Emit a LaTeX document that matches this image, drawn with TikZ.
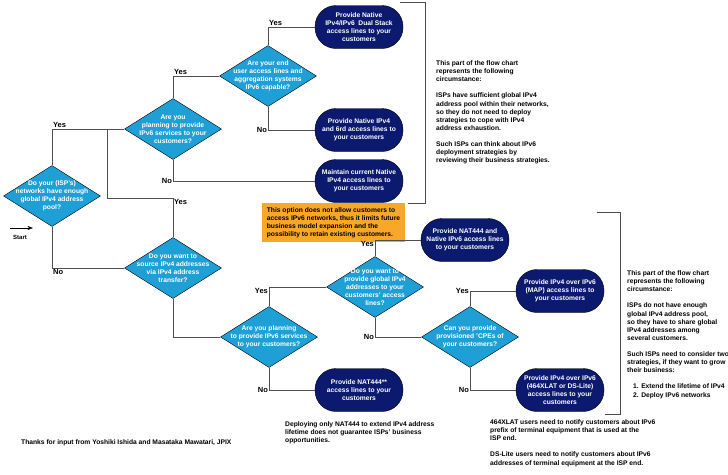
\documentclass[tikz,border=0pt]{standalone}
\usepackage{fontspec}
\setmainfont{Liberation Sans}
\definecolor{diamBlue}{RGB}{30,160,214}
\definecolor{termNavy}{RGB}{11,26,110}
\definecolor{noteOrange}{RGB}{247,168,41}
\definecolor{lineGray}{RGB}{80,80,80}
\usetikzlibrary{arrows.meta,positioning,shapes.geometric}

\begin{document}
\begin{tikzpicture}[
      x=1pt, y=-1pt,
      mydiamond/.style={
         diamond,
         draw=black,
         fill=diamBlue,
         inner sep=0pt,
         minimum width=97pt,
         minimum height=61pt},
      mydtext/.style={
         align=center,
         text=white,
         inner sep=0pt,
         font=\fontsize{6.7}{8.1}\selectfont\bfseries},
      myterm/.style={
         rectangle,
         rounded corners=21pt,
         draw=black,
         fill=termNavy,
         text=white,
         align=center,
         inner sep=0pt,
         minimum width=88pt,
         minimum height=43pt,
         font=\fontsize{6.7}{8.1}\selectfont\bfseries},
      mynote/.style={
         align=left,
         anchor=north west,
         inner sep=0pt,
         font=\fontsize{6.7}{8.1}\selectfont\bfseries},
      mylabel/.style={inner sep=0.8pt,font=\fontsize{7.5}{9}\selectfont\bfseries},
      myline/.style={draw=lineGray,line width=0.6pt},
      mybracket/.style={draw=black!70,line width=0.8pt},
      myarrow/.style={-Stealth}
      ]
      \useasboundingbox (0,0) rectangle (728,474);

      % decisions
      \node[mydiamond] (d1) at (52,196) {};
      \node[mydiamond] (d2) at (173,129) {};
      \node[mydiamond] (d3) at (268,76) {};
      \node[mydiamond] (d4) at (173,268) {};
      \node[mydiamond] (d5) at (375,287) {};
      \node[mydiamond] (d6) at (269,337) {};
      \node[mydiamond] (d7) at (470,337) {};

      \node[mydtext] (d1text) at (d1) {Do your (ISP's)\\networks have enough\\global IPv4 address\\pool?};
      \node[mydtext] (d2text) at (d2) {Are you\\planning to provide\\IPv6 services to your\\customers?};
      \node[mydtext] (d3text) at (d3) {Are your end\\user access lines and\\aggregation systems\\IPv6 capable?};
      \node[mydtext] (d4text) at (d4) {Do you want to\\source IPv4 addresses\\via IPv4 address\\transfer?};
      \node[mydtext] (d5text) at (d5) {Do you want to\\provide global IPv4\\addresses to your\\customers' access\\lines?};
      \node[mydtext] (d6text) at (d6) {Are you planning\\to provide IPv6 services\\to your customers?};
      \node[mydtext] (d7text) at (d7) {Can you provide\\provisioned 'CPEs of\\your customers?};

      % outcomes
      \node[myterm] (t1) at (359,27) {Provide Native\\IPv4/IPv6 \ Dual Stack\\access lines to your\\customers};
      \node[myterm] (t2) at (359,130) {Provide Native IPv4\\and 6rd access lines to\\your customers};
      \node[myterm] (t3) at (359,181) {Maintain current Native\\IPv4 access lines to\\your customers};
      \node[myterm] (t4) at (465,240) {Provide NAT444 and\\Native IPv6 access lines\\to your customers};
      \node[myterm] (t5) at (560,291) {Provide IPv4 over IPv6\\(MAP) access lines to\\your customers};
      \node[myterm] (t6) at (560,390) {Provide IPv4 over IPv6\\(464XLAT or DS-Lite)\\access lines to your\\customers};
      \node[myterm] (t7) at (359,390) {Provide NAT444**\\access lines to your\\customers};

      \node[fill=noteOrange,minimum width=143pt,minimum height=39pt,inner xsep=4pt,inner ysep=0pt,
            align=left,font=\fontsize{6.7}{8.1}\selectfont\bfseries] (warn) at (333.5,222.5)
            {This option does not allow customers to\\access IPv6 networks, thus it limits future\\business model expansion and the\\possibility to retain existing customers.};

      % side texts
      \node[mynote] (infoA) at (436,60.5) {This part of the flow chart\\represents the following\\circumstance:\\[8.1pt]
            ISPs have sufficient global IPv4\\address pool within their networks,\\so they do not need to deploy\\strategies to cope with IPv4\\address exhaustion.\\[8.1pt]
            Such ISPs can think about IPv6\\deployment strategies by\\reviewing their business strategies.};
      \node[mynote] (infoB) at (627,270.5) {This part of the flow chart\\represents the following\\circumstance:\\[8.1pt]
            ISPs do not have enough\\global IPv4 address pool,\\so they have to share global\\IPv4 addresses among\\several customers.\\[8.1pt]
            Such ISPs need to consider two\\strategies, if they want to grow\\their business:\\[8.1pt]
            \hspace{6pt}1. Extend the lifetime of IPv4\\\hspace{6pt}2. Deploy IPv6 networks};
      \node[mynote] (infoC) at (285,421.5) {Deploying only NAT444 to extend IPv4 address\\lifetime does not guarantee ISPs' business\\opportunities.};
      \node[mynote] (infoD) at (490,419.5) {464XLAT users need to notify customers about IPv6\\prefix of terminal equipment that is used at the\\ISP end.\\[8.1pt]
            DS-Lite users need to notify customers about IPv6\\addresses of terminal equipment at the ISP end.};
      \node[mynote] (thanks) at (21,439.5) {Thanks for input from Yoshiki Ishida and Masataka Mawatari, JPIX};

      % connectors
      \foreach \i/\j/\txt/\p in {% from/to/label/anchor
        d1.north/d2.west/Yes/south west,
        d1.south/d4.west/No/north west,
        d2.north/d3.west/Yes/south west,
        d2.south/t3.west/No/east,
        d3.north/t1.west/Yes/south west,
        d3.south/t2.west/No/east,
        d4.south/d6.west//east,
        d6.north/d5.west/Yes/north east,
        d6.south/t7.west/No/east,
        d5.north/t4.west/Yes/north east,
        d5.south/d7.west/No/east,
        d7.north/t5.west/Yes/east,
        d7.south/t6.west/No/east}
      \draw[myline] (\i) |- node[mylabel,anchor=\p] {\txt} (\j);

      \coordinate (forkA) at (107,129);
      \coordinate (forkB) at (107,198);
      \draw[myline] (forkA) -- (forkB) -| node[mylabel,anchor=north west] {Yes} (d4.north);

      % start
      \coordinate (startL) at (10,228);
      \coordinate (startR) at (33,228);
      \draw[myarrow,line width=0.6pt] (startL) -- (startR);
      \node[inner sep=0pt,font=\fontsize{6}{7}\selectfont\bfseries] (startlbl) at (20,237) {Start};

      % brackets
      \coordinate (brA1) at (400,2);
      \coordinate (brA2) at (425,2);
      \coordinate (brA3) at (425,203);
      \coordinate (brA4) at (408,203);
      \draw[mybracket] (brA1) -- (brA2) -- (brA3) -- (brA4);
      \coordinate (brB1) at (597,212);
      \coordinate (brB2) at (620,212);
      \coordinate (brB3) at (620,414);
      \coordinate (brB4) at (605,414);
      \draw[mybracket] (brB1) -- (brB2) -- (brB3) -- (brB4);
\end{tikzpicture}
\end{document}
